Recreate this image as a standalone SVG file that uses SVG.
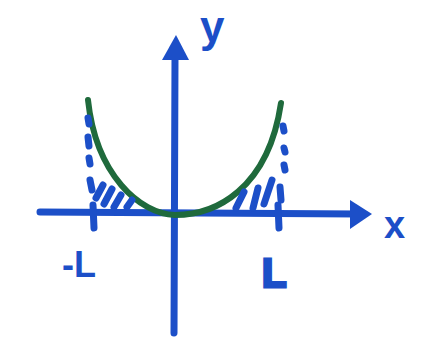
<svg xmlns="http://www.w3.org/2000/svg" width="423" height="339" viewBox="0 0 423 339">
<style>
.ax{stroke:#1c4fc8;stroke-width:7;fill:none;stroke-linecap:round;stroke-linejoin:round}
.ah{fill:#1c4fc8}
.cv{stroke:#1f6a3c;stroke-width:6;fill:none;stroke-linecap:round}
.h{stroke:#1c4fc8;stroke-width:7;stroke-linecap:round;fill:none}
.t{font-family:"Liberation Sans",sans-serif;font-weight:bold;fill:#1c4fc8}
</style>
<rect width="423" height="339" fill="#fff"/>
<g id="connectors">
<path class="ax" d="M40,212 L358,214"/>
<path class="ah" d="M350,200 L372,214 L350,229 Z"/>
<path class="ax" d="M175,58 L174,333"/>
<path class="ah" d="M162,60 L176,35 L189,60 Z"/>
</g>
<g id="curve">
<path class="cv" d="M88,100 C 96,175 140,214 175,215 C 215,215 268,190 281,103"/>
</g>
<g id="hatch">
<path class="h" d="M88,118 L89,124 M88,137 L89,146 M89,158 L90,164 M90,180 L92,190 M96,198 L103,185 M104,204 L112,189 M114,207 L121,195 M127,207 L132,200 M93,205 L94,228"/>
<path class="h" d="M283,126 L284,131 M284,148 L285,152 M284,165 L285,170 M236,208 L244,192 M253,208 L258,188 M264,204 L272,180 M280,187 L281,200 M278,205 L279,228"/>
</g>
<g id="labels">
<text class="t" x="200" y="42" font-size="44">y</text>
<text class="t" x="384" y="238" font-size="38">x</text>
<text class="t" x="62" y="277" font-size="36">-L</text>
<text class="t" x="262" y="287" font-size="40" stroke="#1c4fc8" stroke-width="3">L</text>
</g>
</svg>
